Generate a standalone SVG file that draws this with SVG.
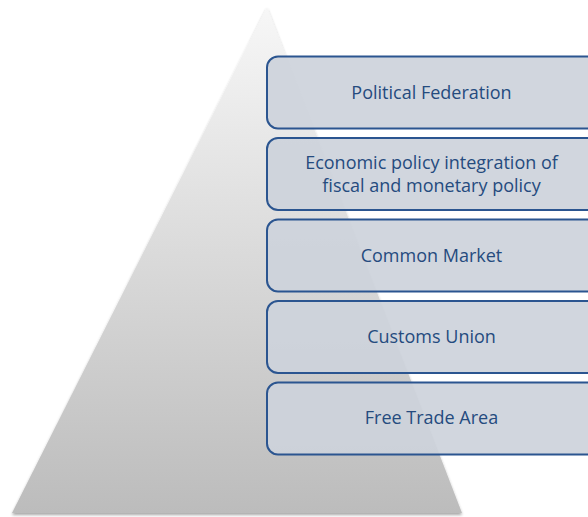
<svg xmlns="http://www.w3.org/2000/svg" width="588" height="517" viewBox="0 0 588 517">
  <defs>
    <linearGradient id="pyrFill" x1="0" y1="0" x2="0" y2="1">
      <stop offset="0" stop-color="#f7f7f7"/>
      <stop offset="1" stop-color="#bcbcbc"/>
    </linearGradient>
    <filter id="softShadow" x="-10%" y="-10%" width="120%" height="120%">
      <feGaussianBlur in="SourceAlpha" stdDeviation="1.5"/>
      <feOffset dx="0" dy="2" result="blur"/>
      <feComponentTransfer><feFuncA type="linear" slope="0.35"/></feComponentTransfer>
      <feMerge><feMergeNode/><feMergeNode in="SourceGraphic"/></feMerge>
    </filter>
    <style>
      .tier { fill: #cdd2db; fill-opacity: 0.92; stroke: #2b5590; stroke-width: 2; }
      .label { font-family: "Open Sans", "Liberation Sans", sans-serif; font-size: 18px; fill: #254b7e; text-anchor: middle; }
    </style>
  </defs>

  <rect width="588" height="517" fill="#ffffff"/>

  <!-- pyramid backdrop -->
  <g id="pyramid">
    <polygon points="267,7 462,513 12,513" fill="url(#pyrFill)" filter="url(#softShadow)"/>
  </g>

  <g id="connectors"/>

  <g id="political-federation">
    <rect class="tier" x="267" y="56.5" width="332" height="72" rx="11"/>
    <text class="label" x="431.5" y="99">Political Federation</text>
  </g>

  <g id="economic-policy">
    <rect class="tier" x="267" y="138" width="332" height="72" rx="11"/>
    <text class="label" x="431.5" y="168.5">Economic policy integration of</text>
    <text class="label" x="431.5" y="191.5">fiscal and monetary policy</text>
  </g>

  <g id="common-market">
    <rect class="tier" x="267" y="219.5" width="332" height="72" rx="11"/>
    <text class="label" x="431.5" y="262">Common Market</text>
  </g>

  <g id="customs-union">
    <rect class="tier" x="267" y="301" width="332" height="72" rx="11"/>
    <text class="label" x="431.5" y="343">Customs Union</text>
  </g>

  <g id="free-trade-area">
    <rect class="tier" x="267" y="382.5" width="332" height="72" rx="11"/>
    <text class="label" x="431.5" y="424">Free Trade Area</text>
  </g>
</svg>
